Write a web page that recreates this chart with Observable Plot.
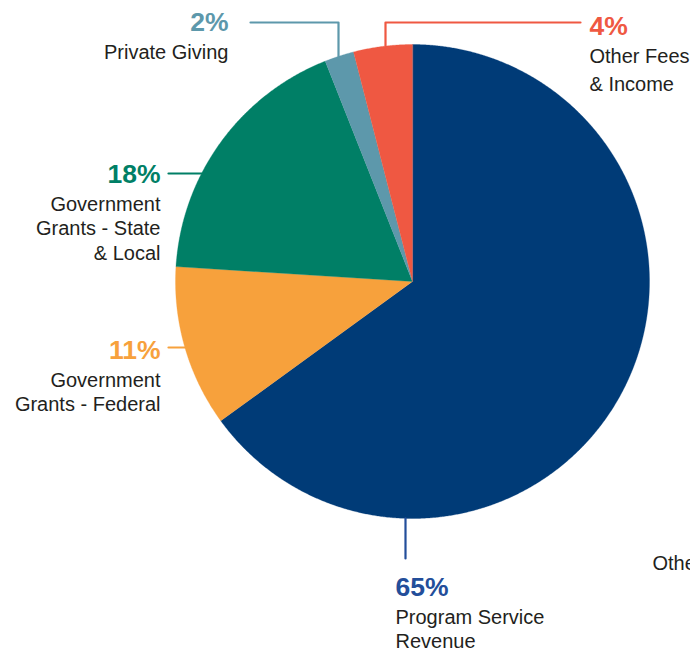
<!DOCTYPE html>
<html><head><meta charset="utf-8">
<script src="https://cdn.jsdelivr.net/npm/d3@7"></script>
<script src="https://cdn.jsdelivr.net/npm/@observablehq/plot@0.6"></script>
<style>
body{margin:0;background:#fff;overflow:hidden}
#chart svg{font-family:"Liberation Sans",Arial,sans-serif;overflow:hidden}
</style>
</head><body><div id="chart"></div>
<script>
// ---- data ----
const categories = ["Program Service Revenue","Government Grants - Federal","Government Grants - State & Local","Private Giving","Other Fees & Income"];
const shares = [65, 11, 18, 2, 4];
const pctLabels = ["65%","11%","18%","2%","4%"];
const nameLines = [["Program Service","Revenue"],["Government","Grants - Federal"],["Government","Grants - State","& Local"],["Private Giving"],["Other Fees","& Income"]];
const sliceColors = ["#003b77","#f7a13c","#007f66","#5d98ab","#ef5842"];
const labelColors = ["#234e9a","#f7a13c","#007f66","#5d98ab","#ef5842"];

// ---- layout (annotation placement) ----
const W = 690, H = 653, cx = 412, cy = 281, R = 237;
const labelLayout = [
  {x:395, y:587, anchor:"start", gap:24.5, leader:[[405,558],[405,null]]},
  {x:160, y:350, anchor:"end",   gap:24.5, leader:[[168,347],[null,347]]},
  {x:160, y:174, anchor:"end",   gap:24.5, leader:[[168,173],[null,173]]},
  {x:228, y:22,  anchor:"end",   gap:24.5, leader:[[250,22],[338,22],[338,null]]},
  {x:589, y:26,  anchor:"start", gap:28,   leader:[[580,22],[385,22],[385,null]]}
];
const firstGap = 30;

// ---- pie geometry from d3.pie ----
const arcs = d3.pie().sort(null).value(d => d)(shares);
const slicePts = [];
arcs.forEach((a, i) => {
  slicePts.push({cat: categories[i], x: cx, y: cy});
  const n = Math.max(2, Math.ceil((a.endAngle - a.startAngle) / 0.005));
  for (let k = 0; k <= n; k++) {
    const t = a.startAngle + (a.endAngle - a.startAngle) * k / n;
    slicePts.push({cat: categories[i], x: cx + R * Math.sin(t), y: cy - R * Math.cos(t)});
  }
});

// leader lines end on the circle
const leaderPts = [];
labelLayout.forEach((L, i) => {
  L.leader.forEach(([x, y]) => {
    if (y === null) {
      const dx = x - cx; const dy = Math.sqrt(R*R - dx*dx);
      y = L.y > cy ? cy + dy : cy - dy;
    } else if (x === null) {
      const dy = y - cy; const dx = Math.sqrt(R*R - dy*dy);
      x = L.x < cx ? cx - dx : cx + dx;
    }
    leaderPts.push({cat: categories[i], x, y});
  });
});

const pctRows = labelLayout.map((L, i) => ({x: L.x, y: L.y, anchor: L.anchor, text: pctLabels[i], color: labelColors[i]}));
const nameRows = [];
labelLayout.forEach((L, i) => nameLines[i].forEach((t, j) => nameRows.push({x: L.x, y: L.y + firstGap + j * L.gap, anchor: L.anchor, text: t})));
const extraRows = [{x: 652, y: 563, text: "Other"}];

const chart = Plot.plot({
  width: W, height: H, margin: 0,
  x: {domain: [0, W], range: [0, W], axis: null},
  y: {domain: [0, H], range: [0, H], axis: null},
  color: {domain: categories, range: sliceColors},
  marks: [
    Plot.line(slicePts, {x: "x", y: "y", z: "cat", fill: "cat", stroke: "cat", strokeWidth: 0.3, curve: "linear-closed"}),
    Plot.line(leaderPts, {x: "x", y: "y", z: "cat", stroke: (d) => labelColors[categories.indexOf(d.cat)], strokeWidth: 2.2}),
    Plot.text(pctRows.filter(d => d.anchor === "start"), {x: "x", y: "y", text: "text", fill: "color", textAnchor: "start", fontSize: 26.5, fontWeight: 700}),
    Plot.text(pctRows.filter(d => d.anchor === "end"), {x: "x", y: "y", text: "text", fill: "color", textAnchor: "end", fontSize: 26.5, fontWeight: 700}),
    Plot.text(nameRows.filter(d => d.anchor === "start"), {x: "x", y: "y", text: "text", fill: "#231f20", textAnchor: "start", fontSize: 20}),
    Plot.text(nameRows.filter(d => d.anchor === "end"), {x: "x", y: "y", text: "text", fill: "#231f20", textAnchor: "end", fontSize: 20}),
    Plot.text(extraRows, {x: "x", y: "y", text: "text", fill: "#231f20", textAnchor: "start", fontSize: 20})
  ]
});
document.getElementById("chart").append(chart);
</script>
</body></html>
